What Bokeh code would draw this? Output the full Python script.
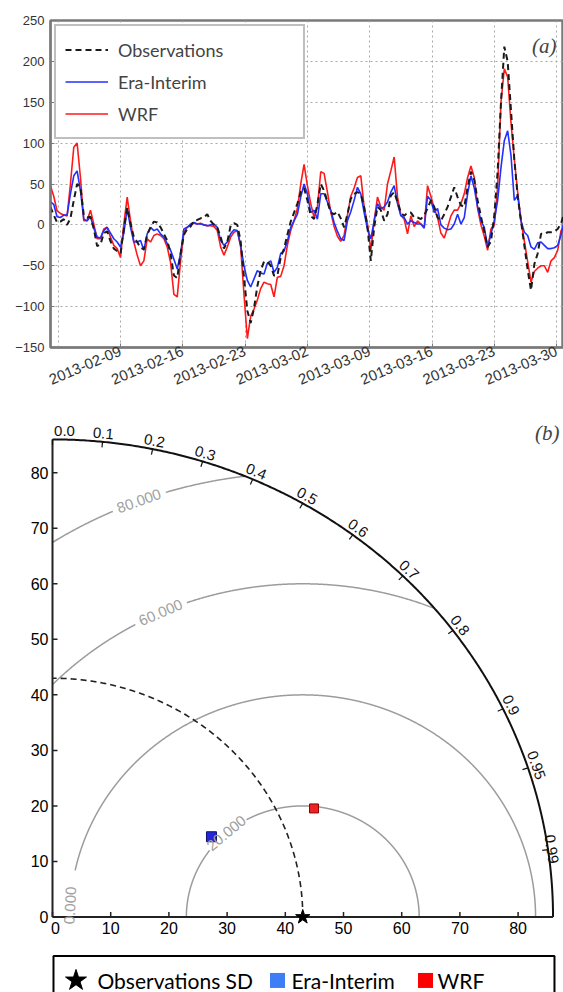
import numpy as np
import pandas as pd
from bokeh.plotting import figure
from bokeh.models import (Range1d, FixedTicker, Legend, LegendItem, Label, LabelSet,
                          ColumnDataSource, DatetimeTickFormatter)
from bokeh.layouts import column
from bokeh.embed import file_html
from bokeh.resources import INLINE
from bokeh.core.properties import value

# ---------------- (a) time series data ----------------
series_start = "2013-02-01 03:00"
series_step_hours = 9

observations = [
    22, 12, 3, 4, 7, 0, 8, 30, 50, 46,
    12, 9, 10, -5, -26, -24, -10, -8, -20, -29,
    -32, -35, -5, 21, 2, -15, -21, -28, -30, -12,
    -3, 4, 3, -3, -11, -19, -35, -62, -65, -35,
    -12, -5, -2, 5, 6, 8, 9, 13, 5, 0,
    -3,
    -15, -29, -21, -1, 2, 0, -20, -64, -105, -120,
    -102, -75, -56, -45, -45, -50, -62, -62, -40, -29, -12,
    4, 15, 26, 40, 45, 30, 11, 7, 25, 50,
    42, 28, 15, 13, 16, 8, -3, 13, 32, 38,
    40, 38, 22, -3, -44, -3, 22, 18, 5, 13,
    36, 40, 28, 15, 11, 15, 15, 9, 9, 7,
    12, 20, 30, 22, 9, 5, 13, 22, 34, 46,
    34, 24, 22, 46, 65, 55, 30, 10, -8, -27,
    -20, 12, 65, 150, 218, 200, 140, 80, 35, 5,
    -25, -55, -80, -48, -35, -11, -11, -9, -9, -8,
    -5, 2, 15,
]

era_interim = [
    28, 25, 10, 9, 12, 12, 38, 60, 66, 42,
    7, 5, 10, -4, -15, -16, -7, -3, -10, -17,
    -21, -27, -10, 20, -3, -21, -21, -19, -31, -11,
    -3, -7, -5, -11, -15, -23, -31, -42, -54, -35,
    -5, -3, 1, 3, 1, 1, 0, -1, 0, 1,
    -3,
    -19, -25, -21, -11, -6, -7, -25, -50, -68, -76,
    -66, -56, -59, -60, -47, -44, -58, -52, -35, -32, -20,
    -3, 5, 13, 34, 50, 38, 15, 18, 7, 38,
    38, 28, 18, 3, -8, -17, -19, 5, 16, 30,
    46, 38, 15, -5, -17, 5, 26, 20, 22, 28,
    40, 48, 26, 11, 9, 1, 5, 3, 1, 1,
    -4, 35, 30, 15, 20, 0, -4, -6, -5, 1,
    13, 1, 9, 38, 60, 45, 22, 5, -3, -27,
    -11, 5, 30, 70, 103, 115, 85, 30, 36, 5,
    -9, -13, -27, -30, -22, -21, -25, -29, -29, -28,
    -25, -12, 5,
]

wrf = [
    48, 35, 17, 14, 12, 11, 50, 95, 100, 58,
    5, 5, 18, 1, -17, -17, -5, -3, -15, -25,
    -29, -40, 1, 34, 5, -21, -37, -50, -44, -17,
    -21, -13, -11, -13, -17, -27, -46, -85, -88, -44,
    -9, -3, 0, 2, 1, 2, 0, -1, -1, -2,
    -7,
    -27, -37, -27, -15, -9, -7, -27, -85, -139, -112,
    -103, -92, -78, -70, -72, -73, -88, -64, -63, -50, -25,
    -7, 5, 20, 50, 74, 48, 26, 9, 22, 65,
    63, 40, 16, -2, -14, -20, -13, 12, 35, 45,
    58, 60, 22, 1, -31, 5, 34, 22, 18, 50,
    66, 83, 34, 12, 7, -11, 11, -2, 5, 1,
    -3, 48, 35, 20, 9, -10, -16, -3, 11, 18,
    18, 26, 38, 58, 72, 58, 20, 0, -14, -31,
    -5, 0, 46, 150, 191, 181, 125, 80, 40, 5,
    -20, -45, -70, -57, -53, -50, -50, -58, -44, -40,
    -31, -7, -1,
]

y_ticks_a = [-150, -100, -50, 0, 50, 100, 150, 200, 250]
x_tick_dates = ["2013-02-09", "2013-02-16", "2013-02-23", "2013-03-02",
                "2013-03-09", "2013-03-16", "2013-03-23", "2013-03-30"]
x_grid_dates = ["2013-02-02"] + x_tick_dates

# ---------------- (b) Taylor diagram data ----------------
obs_sd = 43.0
model_names = ["Era-Interim", "WRF"]
model_sd = [30.9, 49.0]
model_corr = [0.884, 0.917]
rms_levels = [20, 40, 60, 80]
rms_label_text = ["20.000", "0.000", "60.000", "80.000"]
corr_ticks = [0.0, 0.1, 0.2, 0.3, 0.4, 0.5, 0.6, 0.7, 0.8, 0.9, 0.95, 0.99]
corr_tick_labels = ["0.0", "0.1", "0.2", "0.3", "0.4", "0.5", "0.6", "0.7",
                    "0.8", "0.9", "0.95", "0.99"]
sd_ticks = [0, 10, 20, 30, 40, 50, 60, 70, 80]
sd_tick_labels = ["0", "10", "20", "30", "40", "50", "60", "70", "80"]
sd_max = 86.0


def ms(d):
    return pd.Timestamp(d).value / 1e6


times = pd.date_range(series_start, periods=len(observations),
                      freq=pd.Timedelta(hours=series_step_hours))

W = 563
# ======================= figure (a) =======================
p1 = figure(width=W, height=398, x_axis_type="datetime",
            x_range=Range1d(pd.Timestamp("2013-02-01 03:14"), pd.Timestamp("2013-03-30 18:36")),
            y_range=Range1d(-150, 250),
            output_backend="svg", toolbar_location=None,
            min_border_left=50, min_border_right=0, min_border_top=20, min_border_bottom=51)
p1.outline_line_color = "#7a7a7a"
p1.outline_line_width = 2.5

r_wrf = p1.line(times, wrf, line_color="#ff1a1a", line_width=1.6)
r_era = p1.line(times, era_interim, line_color="#2030ff", line_width=1.6)
r_obs = p1.line(times, observations, line_color="#1a1a1a", line_width=2, line_dash="6 4")

p1.xaxis.ticker = FixedTicker(ticks=[ms(d) for d in x_tick_dates])
p1.xgrid.ticker = FixedTicker(ticks=[ms(d) for d in x_grid_dates])
p1.xaxis.formatter = DatetimeTickFormatter(days="%Y-%m-%d", months="%Y-%m-%d",
                                           years="%Y-%m-%d", hours="%Y-%m-%d")
p1.xaxis.major_label_orientation = 0.40
p1.yaxis.ticker = FixedTicker(ticks=y_ticks_a)

for ax in (p1.xaxis, p1.yaxis):
    ax.axis_line_color = "#7a7a7a"
    ax.axis_line_width = 2
    ax.major_tick_in = 4
    ax.major_tick_out = 0
    ax.major_tick_line_color = "#7a7a7a"
    ax.minor_tick_line_color = None
    ax.major_label_text_font = "Liberation Sans"
    ax.major_label_text_color = "#333333"
p1.yaxis.major_label_text_font_size = "13px"
p1.xaxis.major_label_text_font_size = "15px"
p1.yaxis.major_label_standoff = 6
p1.xaxis.major_label_standoff = 3

for g in (p1.xgrid, p1.ygrid):
    g.grid_line_color = "#a8a8a8"
    g.grid_line_dash = "2 3"
    g.grid_line_width = 1

legend = Legend(
    items=[LegendItem(label="Observations", renderers=[r_obs]),
           LegendItem(label="Era-Interim", renderers=[r_era]),
           LegendItem(label="WRF", renderers=[r_wrf])],
    location="top_left", margin=4, padding=9, spacing=3,
    glyph_width=43, glyph_height=29, label_height=29, label_width=176,
    label_standoff=10, label_text_font="Lato", label_text_font_size="18px",
    border_line_color="#808080", border_line_width=2, background_fill_alpha=1.0)
p1.add_layout(legend)

p1.add_layout(Label(x=ms("2013-03-28 14:24"), y=219, text="(a)",
                    text_font="Liberation Serif", text_font_style="italic",
                    text_font_size="21px", text_align="center", text_baseline="middle"))

# ======================= figure (b) =======================
H2 = 594
x0b, x1b = -0.344, 87.80
y0b, y1b = -13.6, 93.37
p2 = figure(width=W, height=H2, x_range=Range1d(x0b, x1b), y_range=Range1d(y0b, y1b),
            output_backend="svg", toolbar_location=None,
            x_axis_location=None, y_axis_location="left",
            min_border_left=50, min_border_right=0, min_border_top=0, min_border_bottom=0)
p2.grid.visible = False
p2.outline_line_color = None

# y tick labels through a left axis (its line and ticks are drawn at x=0 below)
p2.yaxis.ticker = FixedTicker(ticks=sd_ticks)
p2.yaxis.axis_line_color = None
p2.yaxis.major_tick_line_color = None
p2.yaxis.minor_tick_line_color = None
p2.yaxis.major_tick_out = 0
p2.yaxis.major_tick_in = 0
p2.yaxis.major_label_standoff = 2
p2.yaxis.major_label_text_font = "Liberation Sans"
p2.yaxis.major_label_text_font_size = "16px"
p2.yaxis.major_label_text_color = "#000000"

sx = (W - 50) / (x1b - x0b)
sy = H2 / (y1b - y0b)


def add_labels(fig, xs, ys, texts, angles=None, font="Liberation Sans", **kw):
    n = len(texts)
    src = ColumnDataSource(dict(x=list(xs), y=list(ys), text=list(texts),
                                angle=list(angles) if angles is not None else [0.0] * n))
    fig.add_layout(LabelSet(x="x", y="y", text="text", angle="angle", source=src,
                            text_font=value(font), **kw))


# RMS contours centred on the observation point
label_phi_deg = [131.0, 177.0, 114.0, 110.6]
label_halfgap = [4.2, 6.3, 4.8, 4.8]
phi = np.linspace(0, np.pi, 1500)
lab_x, lab_y, lab_a = [], [], []
for lev, phd, gap in zip(rms_levels, label_phi_deg, label_halfgap):
    cx = obs_sd + lev * np.cos(phi)
    cy = lev * np.sin(phi)
    keep = (cx >= 0) & (cx ** 2 + cy ** 2 <= sd_max ** 2) & (np.abs(phi - np.radians(phd)) * lev > gap)
    p2.line(np.where(keep, cx, np.nan), np.where(keep, cy, np.nan),
            line_color="#9c9c9c", line_width=1.5)
    pr = np.radians(phd)
    lab_x.append(obs_sd + lev * np.cos(pr))
    lab_y.append(lev * np.sin(pr))
    lab_a.append(float(np.arctan2(-np.cos(pr) * sy, np.sin(pr) * sx)))
add_labels(p2, lab_x, lab_y, rms_label_text, lab_a, text_align="center",
           text_baseline="middle", text_font_size="15px", text_color="#a0a0a0")

theta = np.linspace(0, np.pi / 2, 400)
p2.line(obs_sd * np.cos(theta), obs_sd * np.sin(theta), line_color="#222222",
        line_width=1.6, line_dash="6 4")
p2.line(sd_max * np.cos(theta), sd_max * np.sin(theta), line_color="#111111", line_width=2)

# standard-deviation axes (drawn at x=0 and y=0)
p2.segment(x0=[0, 0], y0=[0, 0], x1=[sd_max, 0], y1=[0, sd_max], line_color="#222222", line_width=2)
tk = np.array(sd_ticks, dtype=float)
p2.segment(x0=tk, y0=np.zeros_like(tk), x1=tk, y1=np.full_like(tk, 5 / sy),
           line_color="#222222", line_width=1.5)
p2.segment(x0=np.zeros_like(tk), y0=tk, x1=np.full_like(tk, 5 / sx), y1=tk,
           line_color="#222222", line_width=1.5)
x_lab_pos = tk.copy()
x_lab_pos[0] = 3.0 / sx  # keep the "0" label clear of the frame edge
add_labels(p2, x_lab_pos, np.full_like(tk, -5.0 / sy), sd_tick_labels, text_align="center",
           text_baseline="top", text_font_size="16px", text_color="#000000")

# correlation ticks and labels
ct = np.arccos(np.array(corr_ticks))
p2.segment(x0=sd_max * np.cos(ct), y0=sd_max * np.sin(ct),
           x1=(sd_max - 1.0) * np.cos(ct), y1=(sd_max - 1.0) * np.sin(ct),
           line_color="#111111", line_width=1.2)
r_lab = np.full(len(corr_ticks), sd_max + 1.5)
r_lab[-1] = sd_max + 0.6  # keep "0.99" inside the right edge
cx_lab = r_lab * np.cos(ct)
cx_lab[0] = 12.0 / sx  # "0.0" sits at the frame edge; nudge it inside
add_labels(p2, cx_lab, r_lab * np.sin(ct), corr_tick_labels,
           np.arctan2(-np.cos(ct) * sy, np.sin(ct) * sx),
           text_align="center", text_baseline="middle", text_font_size="15px",
           text_color="#111111")

# model points
msd = np.array(model_sd)
mcr = np.array(model_corr)
mx = msd * mcr
my = msd * np.sin(np.arccos(mcr))
p2.scatter(mx[:1], my[:1], marker="square", size=10, fill_color="#2424d8", line_color="#10106e")
p2.scatter(mx[1:], my[1:], marker="square", size=9, fill_color="#ee2222", line_color="#8b0000")
p2.scatter([obs_sd], [0], marker="star", size=15, color="#000000")

p2.add_layout(Label(x=85.0, y=87.16, text="(b)", text_font="Liberation Serif",
                    text_font_style="italic", text_font_size="21px",
                    text_align="center", text_baseline="middle"))

# bottom legend box (manual)
bx0, bx1, by_top, by_bot = 0.17, 86.25, -7.02, -16.0
p2.line([bx0, bx0, bx1, bx1], [by_bot, by_top, by_top, by_bot], line_color="#000000", line_width=2)
ly = -11.43
p2.scatter([4.04], [ly], marker="star", size=22, color="#000000")
p2.scatter([38.66], [ly], marker="square", size=15, fill_color="#3d7df5", line_color=None)
p2.scatter([64.09], [ly], marker="square", size=15, fill_color="#ff0000", line_color=None)
add_labels(p2, [7.73, 41.07, 66.15], [ly, ly, ly], ["Observations SD", "Era-Interim", "WRF"],
           font="Lato", text_align="left", text_baseline="middle",
           text_font_size="21px", text_color="#000000")

layout = column(p1, p2)
open("out.html", "w").write(file_html(layout, INLINE))
